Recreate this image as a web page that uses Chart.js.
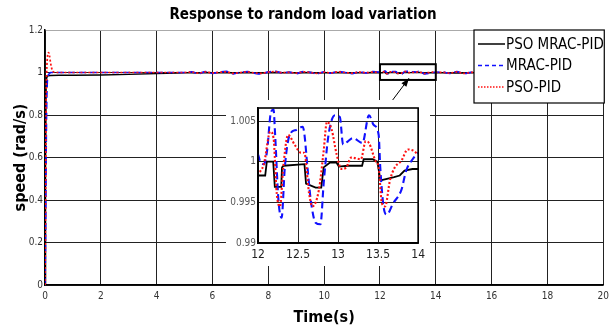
<!DOCTYPE html>
<html>
<head>
<meta charset="utf-8">
<script src="https://cdn.jsdelivr.net/npm/chart.js@4.4.1/dist/chart.umd.min.js"></script>
<style>
  html, body { margin: 0; padding: 0; background: #fff; }
  #wrap { position: relative; width: 614px; height: 329px; }
  #main { position: absolute; left: 0; top: 0; }
  #inset { position: absolute; left: 226px; top: 100px; }
</style>
</head>
<body>
<div id="wrap">
  <canvas id="main" width="614" height="329"></canvas>
  <canvas id="inset" width="204" height="166"></canvas>
</div>
<script>
// time grids for the settled part of the run
const midTime = [5, 5.25, 5.5, 5.75, 6, 6.25, 6.5, 6.75, 7, 7.25, 7.5, 7.75, 8, 8.25,
  8.5, 8.75, 9, 9.25, 9.5, 9.75, 10, 10.25, 10.5, 10.75, 11, 11.25, 11.5, 11.75];
const lateTime = [14.25, 14.5, 14.75, 15, 15.25, 15.5, 15.75, 16, 16.25, 16.5, 16.75, 17,
  17.25, 17.5, 17.75, 18, 18.25, 18.5, 18.75, 19, 19.25, 19.5, 19.75, 20];

// PSO MRAC-PID
const psoMracStartT = [0, 0.02, 0.04, 0.06, 0.1, 0.2, 0.5, 1, 2, 3, 4, 4.75];
const psoMracStartV = [0, 0.55, 0.93, 0.975, 0.984, 0.986, 0.987, 0.987, 0.988, 0.991, 0.995, 0.997];
const psoMracMidV = [0.998, 0.999, 0.998, 1.000, 0.999, 0.999, 1.000, 0.998, 0.999, 1.000,
  0.999, 0.998, 0.999, 1.000, 0.999, 1.000, 0.998, 0.999, 1.000, 0.998,
  0.999, 0.999, 1.000, 0.999, 0.998, 0.999, 0.999, 1.000];
const psoMracZoomT = [12.0, 12.09, 12.11, 12.19, 12.21, 12.29, 12.3, 12.32, 12.58, 12.6, 12.72,
  12.79, 12.82, 12.9, 12.98, 13.01, 13.12, 13.3, 13.32, 13.43, 13.49, 13.53, 13.61, 13.7,
  13.77, 13.83, 13.93, 14.0];
const psoMracZoomV = [0.9983, 0.9983, 1.0, 1.0, 0.9969, 0.9969, 0.9993, 0.9995, 0.9997, 0.9973,
  0.9968, 0.9968, 0.9993, 0.9999, 0.9999, 0.9994, 0.9995, 0.9995, 1.0003, 1.0003, 1.0,
  0.9977, 0.9979, 0.9981, 0.9983, 0.9989, 0.9991, 0.9991];
const psoMracLateV = [0.999, 0.998, 0.999, 0.998, 0.999, 1.000, 0.999, 0.998, 0.999, 1.000,
  0.998, 0.999, 0.999, 1.000, 0.998, 0.999, 1.000, 0.999, 0.999, 0.998,
  0.999, 1.000, 0.999, 0.999];

// MRAC-PID
const mracStartT = [0, 0.02, 0.04, 0.06, 0.08, 0.1, 0.13, 0.16, 0.2, 0.3, 0.5, 1, 2, 3, 4, 4.75];
const mracStartV = [0, 0.25, 0.6, 0.85, 0.95, 0.98, 0.99, 0.995, 1.0, 1.0, 1.0, 1.0, 1.0, 1.0, 1.0, 1.0];
const mracMidV = [1.000, 1.003, 0.995, 1.004, 0.996, 1.002, 1.005, 0.994, 1.001, 1.004,
  0.997, 0.993, 1.003, 1.005, 0.998, 1.002, 0.995, 1.004, 1.001, 0.994,
  1.003, 0.997, 1.005, 1.000, 0.995, 1.003, 0.998, 1.004];
const mracZoomT = [12.0, 12.032, 12.073, 12.113, 12.162, 12.194, 12.214, 12.255, 12.295, 12.335,
  12.396, 12.477, 12.558, 12.578, 12.618, 12.659, 12.719, 12.78, 12.82, 12.881, 12.962,
  13.022, 13.063, 13.123, 13.184, 13.305, 13.386, 13.446, 13.507, 13.527, 13.568, 13.608,
  13.689, 13.79, 13.851, 13.931, 14.0];
const mracZoomV = [1.0009, 0.9999, 0.9997, 1.0013, 1.0061, 1.0064, 1.0033, 0.9953, 0.9931, 0.9993,
  1.0033, 1.0039, 1.0043, 1.0035, 0.9993, 0.9953, 0.9925, 0.9923, 0.9973, 1.0033, 1.0057,
  1.0055, 1.0021, 1.0025, 1.0029, 1.0023, 1.0057, 1.0045, 1.0033, 0.9993, 0.9945, 0.9935,
  0.9949, 0.9965, 0.9989, 1.0003, 1.0011];
const mracLateV = [1.002, 0.996, 1.004, 0.995, 1.001, 1.005, 0.997, 0.994, 1.003, 1.000,
  0.996, 1.004, 0.998, 1.002, 0.995, 1.003, 1.005, 0.997, 1.001, 0.994,
  1.002, 1.004, 0.998, 1.000];

// PSO-PID
const psoPidStartT = [0, 0.02, 0.04, 0.06, 0.08, 0.1, 0.13, 0.16, 0.2, 0.25, 0.3, 0.4, 0.6, 1, 2, 3, 4, 4.75];
const psoPidStartV = [0, 0.4, 0.85, 1.0, 1.06, 1.085, 1.094, 1.08, 1.045, 1.015, 1.003, 1.0, 1.0, 1.0, 1.0, 1.0, 1.0, 1.0];
const psoPidMidV = [1.000, 1.002, 0.997, 1.003, 0.998, 1.001, 1.003, 0.996, 1.000, 1.003,
  0.998, 0.996, 1.002, 1.004, 0.999, 1.001, 0.997, 1.003, 1.000, 0.996,
  1.002, 0.998, 1.003, 1.000, 0.997, 1.002, 0.999, 1.002];
const psoPidZoomT = [12.0, 12.073, 12.154, 12.194, 12.234, 12.275, 12.315, 12.376, 12.457, 12.537,
  12.578, 12.638, 12.679, 12.76, 12.82, 12.861, 12.921, 12.982, 13.042, 13.103, 13.164,
  13.285, 13.345, 13.386, 13.467, 13.507, 13.547, 13.588, 13.648, 13.709, 13.79, 13.871,
  13.952, 14.0];
const psoPidZoomV = [0.9987, 0.9997, 1.0037, 1.0029, 0.9961, 0.9945, 0.9993, 1.0033, 1.0021, 1.0011,
  1.0011, 0.9961, 0.9945, 0.9965, 1.0013, 1.0049, 1.0039, 1.0009, 0.9991, 0.9993, 1.0005,
  1.0003, 1.0025, 1.0023, 1.0001, 0.9993, 0.9949, 0.9945, 0.9977, 0.9993, 1.0001, 1.0015,
  1.0013, 1.0009];
const psoPidLateV = [1.001, 0.997, 1.003, 0.996, 1.000, 1.003, 0.998, 0.996, 1.002, 1.000,
  0.997, 1.003, 0.999, 1.001, 0.997, 1.002, 1.003, 0.998, 1.000, 0.996,
  1.001, 1.003, 0.999, 1.000];

const seriesLabels = ['PSO MRAC-PID', 'MRAC-PID', 'PSO-PID'];
const xTicksMain = [0, 2, 4, 6, 8, 10, 12, 14, 16, 18, 20];

const NARROW = "'DejaVu Sans Condensed', 'Liberation Sans', sans-serif";

function joinSeries(startT, startV, midV, zoomT, zoomV, lateV) {
  const pts = [];
  startT.forEach((t, i) => pts.push({ x: t, y: startV[i] }));
  midTime.forEach((t, i) => pts.push({ x: t, y: midV[i] }));
  zoomT.forEach((t, i) => pts.push({ x: t, y: zoomV[i] }));
  lateTime.forEach((t, i) => pts.push({ x: t, y: lateV[i] }));
  return pts;
}

const psoMrac = joinSeries(psoMracStartT, psoMracStartV, psoMracMidV, psoMracZoomT, psoMracZoomV, psoMracLateV);
const mrac = joinSeries(mracStartT, mracStartV, mracMidV, mracZoomT, mracZoomV, mracLateV);
const psoPid = joinSeries(psoPidStartT, psoPidStartV, psoPidMidV, psoPidZoomT, psoPidZoomV, psoPidLateV);

function makeDatasets(w) {
  return [
    { label: seriesLabels[0], data: psoMrac, borderColor: '#000', borderWidth: w, tension: 0, order: 3 },
    { label: seriesLabels[1], data: mrac, borderColor: '#1010ff', borderWidth: w + 0.3,
      borderDash: [7, 4], cubicInterpolationMode: 'monotone', order: 2 },
    { label: seriesLabels[2], data: psoPid, borderColor: '#ff1010', borderWidth: w + 0.3,
      borderDash: [2, 2], cubicInterpolationMode: 'monotone', order: 1 }
  ];
}

const fmt = v => String(+(+v).toFixed(3));

// legend box in the top right corner, zoom rectangle and arrow
const mainExtras = {
  id: 'mainExtras',
  afterDatasetsDraw(chart) {
    const { ctx, scales: { x, y }, chartArea } = chart;
    ctx.save();
    // zoom rectangle around 12..14 s
    const bx0 = x.getPixelForValue(12), bx1 = x.getPixelForValue(14);
    const by0 = y.getPixelForValue(1.039), by1 = y.getPixelForValue(0.965);
    ctx.strokeStyle = '#000';
    ctx.lineWidth = 2;
    ctx.strokeRect(bx0, by0, bx1 - bx0, by1 - by0);
    // arrow from inset to the rectangle
    const ax0 = x.getPixelForValue(12.32), ay0 = y.getPixelForValue(0.847);
    const ax1 = x.getPixelForValue(13.04), ay1 = y.getPixelForValue(0.973);
    ctx.lineWidth = 1;
    ctx.beginPath();
    ctx.moveTo(ax0, ay0);
    ctx.lineTo(ax1, ay1);
    ctx.stroke();
    const ang = Math.atan2(ay1 - ay0, ax1 - ax0);
    ctx.beginPath();
    ctx.moveTo(ax1, ay1);
    ctx.lineTo(ax1 - 9 * Math.cos(ang - 0.35), ay1 - 9 * Math.sin(ang - 0.35));
    ctx.lineTo(ax1 - 9 * Math.cos(ang + 0.35), ay1 - 9 * Math.sin(ang + 0.35));
    ctx.closePath();
    ctx.fillStyle = '#000';
    ctx.fill();

    // legend
    const lx = 474, ly = chartArea.top, lw = chartArea.right - 474 + 1, lh = 73;
    ctx.fillStyle = '#fff';
    ctx.fillRect(lx, ly, lw, lh);
    ctx.strokeStyle = '#000';
    ctx.lineWidth = 1.2;
    ctx.strokeRect(lx, ly, lw, lh);
    ctx.font = '15px ' + NARROW;
    ctx.textBaseline = 'middle';
    chart.data.datasets.forEach((ds, i) => {
      const yy = ly + 14 + i * 21.5;
      ctx.strokeStyle = ds.borderColor;
      ctx.lineWidth = 1.5;
      ctx.setLineDash(i === 0 ? [] : (i === 1 ? [4, 3] : [1.5, 1.5]));
      ctx.beginPath();
      ctx.moveTo(lx + 4, yy);
      ctx.lineTo(lx + 31, yy);
      ctx.stroke();
      ctx.setLineDash([]);
      ctx.fillStyle = '#000';
      ctx.fillText(ds.label, lx + 32, yy + 1);
    });
    ctx.restore();
  }
};

new Chart(document.getElementById('main'), {
  type: 'line',
  data: { datasets: makeDatasets(1.4) },
  options: {
    responsive: false,
    animation: false,
    devicePixelRatio: 1,
    elements: { point: { radius: 0 } },
    layout: { padding: { left: 0, right: 8, top: 0, bottom: 0 } },
    plugins: {
      legend: { display: false },
      tooltip: { enabled: false },
      title: {
        display: true,
        text: 'Response to random load variation',
        color: '#000',
        font: { family: NARROW, size: 15, weight: 'bold' },
        padding: { top: 6, bottom: 6 }
      }
    },
    scales: {
      x: {
        type: 'linear', min: 0, max: 20,
        afterBuildTicks: s => { s.ticks = xTicksMain.map(v => ({ value: v })); },
        afterFit: s => { s.height = 44; },
        ticks: { color: '#333', font: { family: NARROW, size: 10 }, padding: 5, callback: fmt, maxRotation: 0 },
        grid: { color: '#222', lineWidth: 1, drawTicks: false },
        border: { color: '#000', width: 1.5 },
        title: { display: true, text: 'Time(s)', color: '#000',
          font: { family: NARROW, size: 16, weight: 'bold' }, padding: { top: 2, bottom: 2 } }
      },
      y: {
        min: 0, max: 1.2,
        afterFit: s => { s.width = 45; },
        ticks: { stepSize: 0.2, color: '#333', font: { family: NARROW, size: 10 }, padding: 2, callback: fmt },
        grid: {
          color: c => (c.tick && Math.abs(c.tick.value - 1.2) < 1e-6) ? '#aaa' : '#222',
          lineWidth: 1, drawTicks: false
        },
        border: { color: '#000', width: 1.5 },
        title: { display: true, text: 'speed (rad/s)', color: '#000',
          font: { family: NARROW, size: 16, weight: 'bold' }, padding: { top: 11, bottom: 0 } }
      }
    }
  },
  plugins: [mainExtras]
});

// zoomed inset
const insetFrame = {
  id: 'insetFrame',
  beforeDraw(chart) {
    const { ctx, width, height } = chart;
    ctx.save();
    ctx.fillStyle = '#fff';
    ctx.fillRect(0, 0, width, height);
    ctx.restore();
  },
  afterDatasetsDraw(chart) {
    const { ctx, chartArea: a } = chart;
    ctx.save();
    ctx.strokeStyle = '#000';
    ctx.lineWidth = 1.6;
    ctx.strokeRect(a.left, a.top, a.right - a.left, a.bottom - a.top);
    ctx.restore();
  }
};

new Chart(document.getElementById('inset'), {
  type: 'line',
  data: { datasets: makeDatasets(1.8) },
  options: {
    responsive: false,
    animation: false,
    devicePixelRatio: 1,
    elements: { point: { radius: 0 } },
    layout: { padding: { left: 0, right: 7, top: 5, bottom: 0 } },
    plugins: { legend: { display: false }, tooltip: { enabled: false }, title: { display: false } },
    scales: {
      x: {
        type: 'linear', min: 12, max: 14,
        afterFit: s => { s.height = 23; },
        ticks: { stepSize: 0.5, color: '#222', font: { family: NARROW, size: 12 }, padding: 5, callback: fmt, maxRotation: 0 },
        grid: { color: '#222', lineWidth: 1, drawTicks: false },
        border: { color: '#000', width: 1.6 }
      },
      y: {
        min: 0.99, max: 1.0066,
        afterFit: s => { s.width = 32; },
        ticks: { stepSize: 0.005, includeBounds: false, color: '#555', font: { family: NARROW, size: 10 }, padding: 2, callback: fmt },
        grid: { color: '#222', lineWidth: 1, drawTicks: false },
        border: { color: '#000', width: 1.6 }
      }
    }
  },
  plugins: [insetFrame]
});
</script>
</body>
</html>
